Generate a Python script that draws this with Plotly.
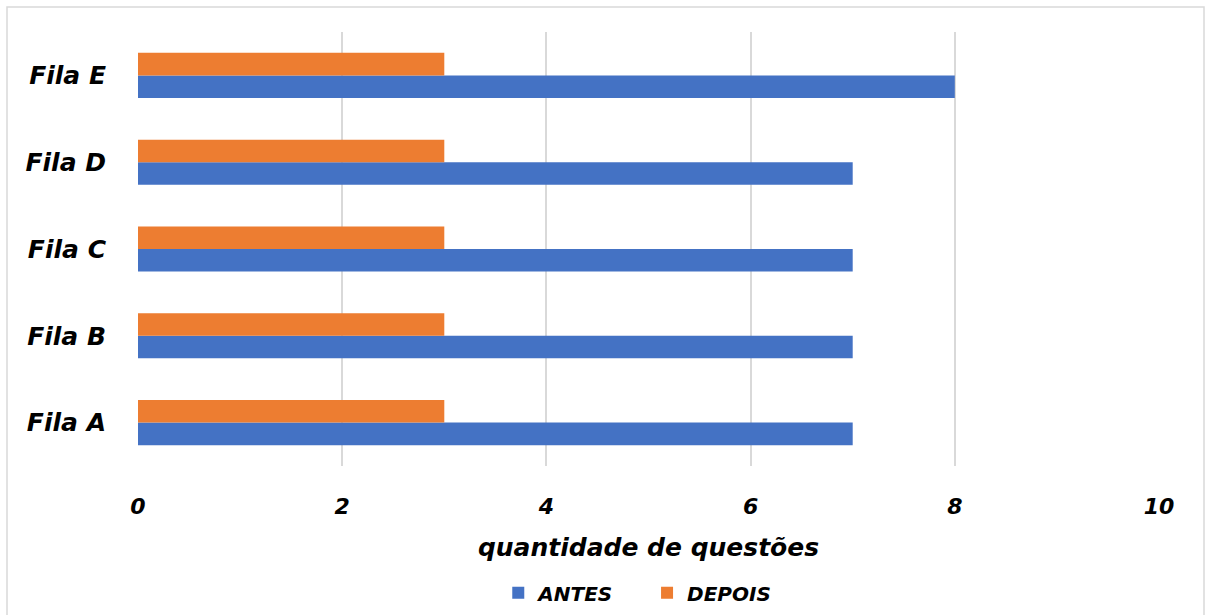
import plotly.graph_objects as go

categories = ["Fila A", "Fila B", "Fila C", "Fila D", "Fila E"]
antes = [7, 7, 7, 7, 8]
depois = [3, 3, 3, 3, 3]
x_ticks = [0, 2, 4, 6, 8, 10]

FONT = "DejaVu Sans"
BLUE = "#4472C4"
ORANGE = "#ED7D31"

fig = go.Figure()
fig.add_trace(go.Bar(y=categories, x=antes, name="ANTES\u00a0\u00a0\u00a0\u00a0", orientation="h",
                     marker=dict(color=BLUE, line=dict(width=0))))
fig.add_trace(go.Bar(y=categories, x=depois, name="DEPOIS", orientation="h",
                     marker=dict(color=ORANGE, line=dict(width=0))))

fig.update_layout(
    width=1206, height=615,
    margin=dict(l=138, r=47, t=32, b=149, autoexpand=False),
    paper_bgcolor="white", plot_bgcolor="white",
    barmode="group", bargap=0.48, bargroupgap=0,
    font=dict(family=FONT, color="black"),
    legend=dict(orientation="h", x=0.489, xanchor="center", y=-0.292, yanchor="middle",
                font=dict(size=20, family=FONT, style="italic", weight="bold"),
                itemwidth=30, traceorder="normal"),
    xaxis=dict(range=[0, 10], tickvals=x_ticks, showgrid=True, gridcolor="#D9D9D9",
               gridwidth=1.5, zeroline=False, showline=False, automargin=False,
               tickfont=dict(size=22, family=FONT, style="italic", weight="bold"),
               ticks="outside", ticklen=0, ticklabelstandoff=21,
               title=dict(text="quantidade de questões", standoff=20,
                          font=dict(size=25, family=FONT, style="italic", weight="bold"))),
    yaxis=dict(showgrid=False, zeroline=False, showline=False, automargin=False,
               tickfont=dict(size=25, family=FONT, style="italic", weight="bold"),
               ticks="outside", ticklen=0, ticklabelstandoff=26),
    shapes=[
        dict(type="rect", xref="paper", yref="paper",
             x0=(7 - 138) / 1021, x1=(1204 - 138) / 1021,
             y0=-0.5, y1=(466 - 7) / 434,
             line=dict(color="#D9D9D9", width=1.5), fillcolor="rgba(0,0,0,0)", layer="below"),
    ],
)

fig.write_html("out.html")
